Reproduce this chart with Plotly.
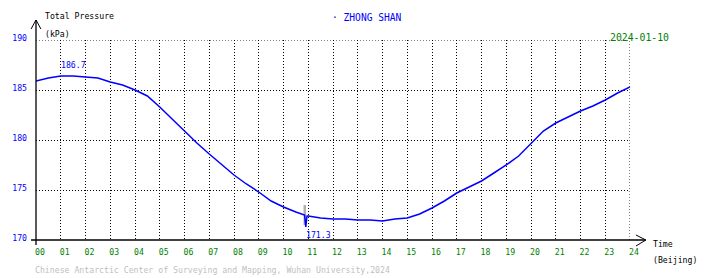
import plotly.graph_objects as go

# ---- data ----
hours = [0.0, 0.5, 1.0, 1.5, 2.0, 2.5, 3.0, 3.5, 4.0, 4.5, 5.0, 5.5, 6.0, 6.5,
         7.0, 7.5, 8.0, 8.5, 9.0, 9.5, 10.0, 10.5, 10.85, 10.9, 10.95, 11.0,
         11.5, 12.0, 12.5, 13.0, 13.5, 14.0, 14.5, 15.0, 15.5, 16.0, 16.5,
         17.0, 17.5, 18.0, 18.5, 19.0, 19.5, 20.0, 20.5, 21.0, 21.5, 22.0,
         22.5, 23.0, 23.5, 24.0]
pressure = [185.9, 186.2, 186.4, 186.4, 186.3, 186.2, 185.8, 185.5, 185.0,
            184.4, 183.3, 182.1, 180.8, 179.7, 178.6, 177.5, 176.5, 175.6,
            174.8, 173.9, 173.3, 172.8, 172.5, 171.3, 172.4, 172.4, 172.2,
            172.1, 172.1, 172.0, 172.0, 171.9, 172.1, 172.2, 172.6, 173.2,
            173.9, 174.7, 175.3, 175.9, 176.7, 177.5, 178.4, 179.6, 180.9,
            181.7, 182.3, 182.9, 183.4, 184.0, 184.7, 185.3]
spike_hours = [10.86, 10.86]
spike_pressure = [171.5, 173.5]

x_tickvals = list(range(0, 25))
x_ticktext = [f"{h:02d}" for h in x_tickvals]
y_tickvals = [170, 175, 180, 185, 190]
y_ticktext = [str(v) for v in y_tickvals]
x_range = [0, 24]
y_range = [170, 190]

max_label = "186.7"
max_pos = (1.0, 186.7)
min_label = "171.3"
min_pos = (10.9, 171.3)

station = "· ZHONG SHAN"
date_text = "2024-01-10"
footer = "Chinese Antarctic Center of Surveying and Mapping, Wuhan University,2024"

W, H = 710, 278
L, R, T, B = 30, 80, 40, 38
PW, PH = W - L - R, H - T - B
FONT = "DejaVu Sans Mono"
GRID_DASH = "1px,2px"


def px(x):
    return (x - L) / PW


def py(y):
    return (H - B - y) / PH


fig = go.Figure()
fig.add_trace(go.Scatter(x=spike_hours, y=spike_pressure, mode="lines",
                         line=dict(color="#b0b0b0", width=2.5),
                         hoverinfo="skip", showlegend=False))
fig.add_trace(go.Scatter(x=hours, y=pressure, mode="lines",
                         line=dict(color="#0000ff", width=1.5),
                         showlegend=False))

shapes = []
# edge grid lines (Plotly omits grid lines at the range ends)
gl = dict(color="black", width=1, dash=GRID_DASH)
shapes.append(dict(type="line", xref="x", yref="y", layer="below",
                   x0=x_range[0], y0=y_range[1], x1=x_range[1], y1=y_range[1], line=gl))
shapes.append(dict(type="line", xref="x", yref="y", layer="below",
                   x0=x_range[1], y0=y_range[0], x1=x_range[1], y1=y_range[1], line=gl))

black = dict(color="black", width=1.3)
# axis lines
shapes.append(dict(type="line", xref="paper", yref="paper",
                   x0=px(30), y0=py(245), x1=px(30), y1=py(20), line=black))
shapes.append(dict(type="line", xref="paper", yref="paper",
                   x0=px(25), y0=py(240), x1=px(646), y1=py(240), line=black))
# arrow heads
for (x0, y0) in [(25, 29), (35, 29)]:
    shapes.append(dict(type="line", xref="paper", yref="paper",
                       x0=px(x0), y0=py(y0), x1=px(30), y1=py(20),
                       line=dict(color="black", width=1)))
for (x0, y0) in [(636, 235), (636, 246)]:
    shapes.append(dict(type="line", xref="paper", yref="paper",
                       x0=px(x0), y0=py(y0), x1=px(646), y1=py(240),
                       line=dict(color="black", width=1)))

ann = []
small = dict(family=FONT, size=8.2, color="black")
D = -3  # annotation box padding compensation
ann.append(dict(text="Total Pressure", x=px(40 + D), y=py(16), xref="paper", yref="paper",
                xanchor="left", yanchor="middle", showarrow=False, font=small))
ann.append(dict(text="(kPa)", x=px(40 + D), y=py(34), xref="paper", yref="paper",
                xanchor="left", yanchor="middle", showarrow=False, font=small))
ann.append(dict(text="Time", x=px(654 + D), y=py(244), xref="paper", yref="paper",
                xanchor="left", yanchor="middle", showarrow=False, font=small))
ann.append(dict(text="(Beijing)", x=px(654 + D), y=py(260), xref="paper", yref="paper",
                xanchor="left", yanchor="middle", showarrow=False, font=small))
ann.append(dict(text=station, x=px(330 + D), y=py(17), xref="paper", yref="paper",
                xanchor="left", yanchor="middle", showarrow=False,
                font=dict(family=FONT, size=9.6, color="#0000ff")))
ann.append(dict(text=date_text, x=px(611 + D), y=py(37), xref="paper", yref="paper",
                xanchor="left", yanchor="middle", showarrow=False,
                font=dict(family=FONT, size=9.8, color="#008000")))
ann.append(dict(text=footer, x=px(30 + D), y=py(270), xref="paper", yref="paper",
                xanchor="left", yanchor="middle", showarrow=False,
                font=dict(family=FONT, size=8.2, color="#c0c0c0")))
ann.append(dict(text=max_label, x=max_pos[0], y=max_pos[1], xref="x", yref="y",
                xanchor="left", yanchor="bottom", showarrow=False, xshift=-2, yshift=1,
                font=dict(family=FONT, size=8.2, color="#0000ff")))
ann.append(dict(text=min_label, x=min_pos[0], y=min_pos[1], xref="x", yref="y",
                xanchor="left", yanchor="top", showarrow=False, xshift=-2, yshift=-1,
                font=dict(family=FONT, size=8.2, color="#0000ff")))

fig.update_layout(
    width=W, height=H, autosize=False,
    margin=dict(l=L, r=R, t=T, b=B, pad=0),
    paper_bgcolor="white", plot_bgcolor="white",
    shapes=shapes, annotations=ann,
    xaxis=dict(range=x_range, tickvals=x_tickvals, ticktext=x_ticktext,
               showgrid=True, gridcolor="black", gridwidth=1, griddash=GRID_DASH,
               zeroline=False, showline=False, ticks="",
               tickfont=dict(family=FONT, size=8.2, color="#008000"),
               ticklabelshift=4, ticklabelstandoff=6, fixedrange=True),
    yaxis=dict(range=y_range, tickvals=y_tickvals, ticktext=y_ticktext,
               showgrid=True, gridcolor="black", gridwidth=1, griddash=GRID_DASH,
               zeroline=False, showline=False, ticks="",
               tickfont=dict(family=FONT, size=8.2, color="#0000ff"),
               ticklabelshift=-2, ticklabelstandoff=8, fixedrange=True),
)

fig.write_html("out.html")
